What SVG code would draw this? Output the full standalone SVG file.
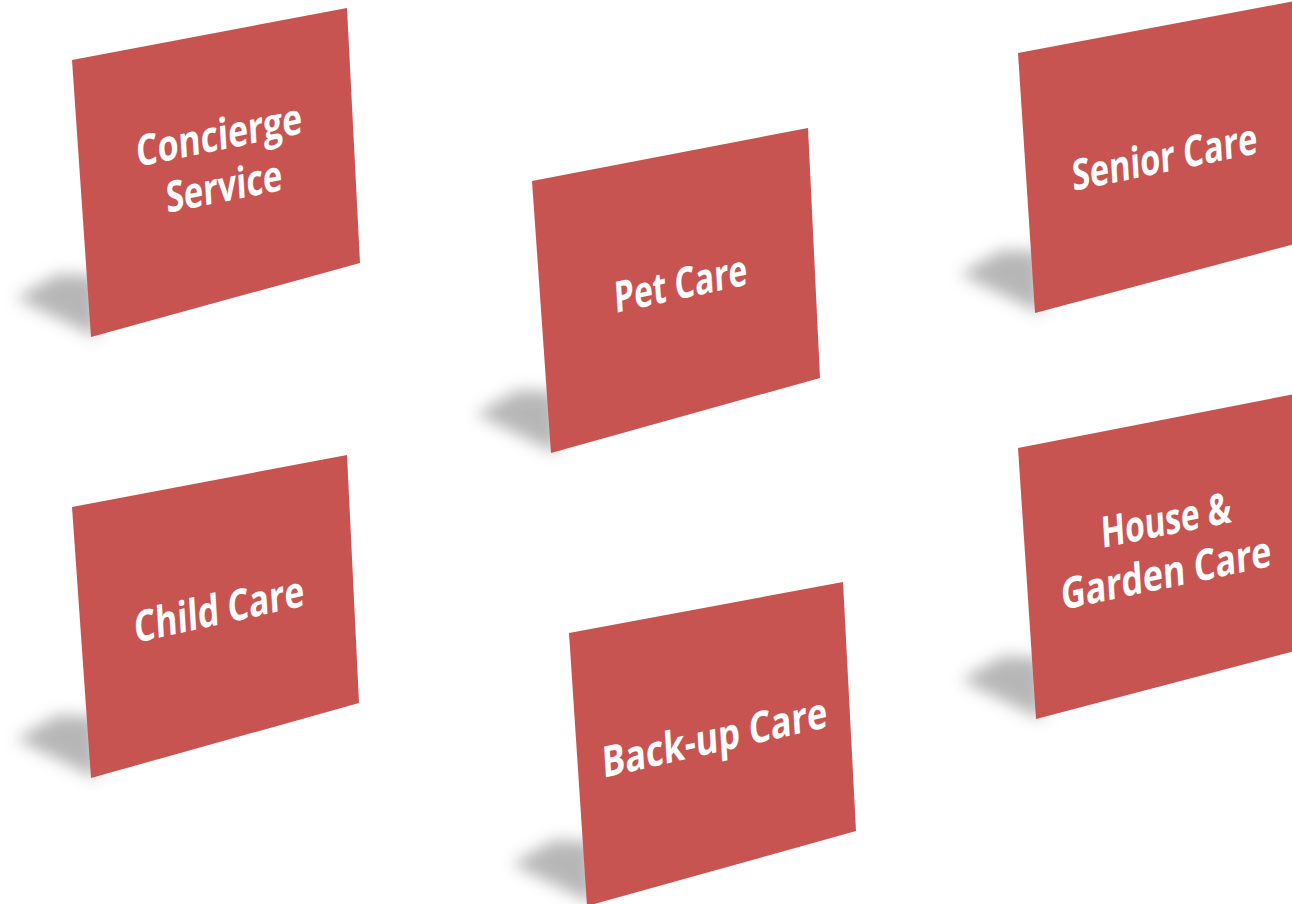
<svg xmlns="http://www.w3.org/2000/svg" width="1292" height="904" viewBox="0 0 1292 904">
<style>
.card{fill:#C75450}
.shadow{fill:#707070;opacity:0.5;filter:url(#blur)}
.lbl{fill:#ffffff;font-family:"Open Sans","Liberation Sans",sans-serif;font-weight:700;font-size:43px}
</style>
<defs>
<filter id="blur" x="-50%" y="-50%" width="200%" height="200%"><feGaussianBlur stdDeviation="8"/></filter>
</defs>
<rect width="1292" height="904" fill="#ffffff"/>
<g id="connectors"/>
<g id="card-concierge">
<polygon class="shadow" points="16,298 58,274 98,276 98,338"/>
<polygon class="card" points="72,60 347,8 360,263 91,337"/>
<text class="lbl" transform="matrix(1,-0.205,0.06,1,137,167)" textLength="166" lengthAdjust="spacingAndGlyphs">Concierge</text>
<text class="lbl" transform="matrix(1,-0.2,0.06,1,167,213)" textLength="116" lengthAdjust="spacingAndGlyphs">Service</text>
</g>
<g id="card-pet">
<polygon class="shadow" points="476,414 518,390 558,392 558,454"/>
<polygon class="card" points="532,181 808,128 820,378 551,453"/>
<text class="lbl" transform="matrix(1,-0.215,0.06,1,615,313)" textLength="133" lengthAdjust="spacingAndGlyphs">Pet Care</text>
</g>
<g id="card-senior">
<polygon class="shadow" points="960,274 1002,250 1042,252 1042,314"/>
<polygon class="card" points="1018,53 1300,0 1310,240 1035,313"/>
<text class="lbl" transform="matrix(1,-0.205,0.06,1,1073,191)" textLength="185" lengthAdjust="spacingAndGlyphs">Senior Care</text>
</g>
<g id="card-child">
<polygon class="shadow" points="16,739 58,715 98,717 98,779"/>
<polygon class="card" points="72,507 347,455 359,703 91,778"/>
<text class="lbl" transform="matrix(1,-0.22,0.06,1,135,643)" textLength="170" lengthAdjust="spacingAndGlyphs">Child Care</text>
</g>
<g id="card-backup">
<polygon class="shadow" points="512,864 554,840 594,842 594,904"/>
<polygon class="card" points="569,633 843,582 856,831 587,906"/>
<text class="lbl" transform="matrix(1,-0.227,0.06,1,603,778)" textLength="225" lengthAdjust="spacingAndGlyphs">Back-up Care</text>
</g>
<g id="card-house">
<polygon class="shadow" points="961,680 1003,656 1043,658 1043,720"/>
<polygon class="card" points="1018,448 1300,393 1310,647 1036,719"/>
<text class="lbl" transform="matrix(1,-0.2,0.06,1,1102,548)" textLength="130" lengthAdjust="spacingAndGlyphs">House &amp;</text>
<text class="lbl" transform="matrix(1,-0.21,0.06,1,1062,610)" textLength="210" lengthAdjust="spacingAndGlyphs">Garden Care</text>
</g>
</svg>
